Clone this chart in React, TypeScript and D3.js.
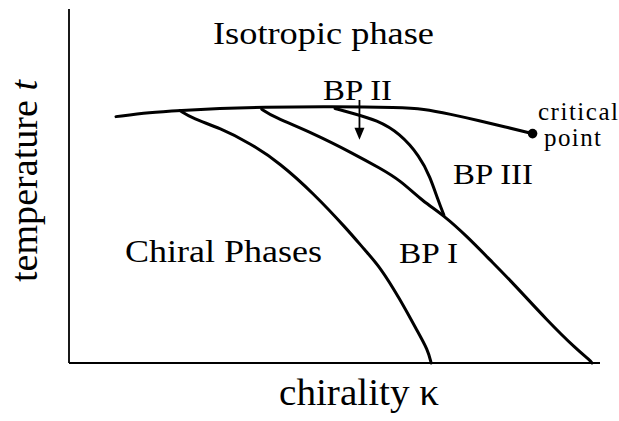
import React from "react";
import * as d3 from "d3";

// Phase diagram of a chiral liquid crystal: temperature t against chirality κ.
// Coordinates are in normalised units (0..1 on both axes).

// Isotropic boundary, ending at the critical point
const isoKappa = [0.0885, 0.1525, 0.209, 0.284, 0.36, 0.497, 0.623, 0.667, 0.718, 0.774, 0.821, 0.873];
const isoTemp = [0.696, 0.708, 0.713, 0.719, 0.723, 0.725, 0.722, 0.718, 0.703, 0.684, 0.667, 0.648];

// Chiral phases / BP I boundary
const chiralKappa = [0.209, 0.2335, 0.284, 0.341, 0.397, 0.46, 0.525, 0.557, 0.586, 0.623, 0.655, 0.676, 0.682];
const chiralTemp = [0.713, 0.69, 0.664, 0.621, 0.565, 0.48, 0.376, 0.319, 0.271, 0.181, 0.093, 0.037, 0.0];

// BP I / BP II boundary, continuing as BP I / BP III
const bp1Kappa = [0.363, 0.384, 0.46, 0.535, 0.586, 0.623, 0.667, 0.705, 0.75, 0.793, 0.836, 0.9, 0.957, 0.981, 0.985];
const bp1Temp = [0.717, 0.696, 0.649, 0.592, 0.55, 0.517, 0.456, 0.418, 0.357, 0.291, 0.226, 0.121, 0.037, 0.008, 0.0];

// BP II / BP III boundary
const bp2Kappa = [0.501, 0.535, 0.58, 0.623, 0.661, 0.68, 0.695, 0.706];
const bp2Temp = [0.719, 0.705, 0.686, 0.649, 0.583, 0.526, 0.46, 0.418];

// Arrow pointing into the narrow BP II pocket
const arrowKappa = [0.547, 0.547];
const arrowTemp = [0.743, 0.631];

const W = 619;
const H = 421;
const FONT = "'Liberation Serif', 'Times New Roman', Times, serif";

export default function App() {
  const x = d3.scaleLinear().domain([0, 1]).range([69, 600]);
  const y = d3.scaleLinear().domain([0, 1]).range([363, 9]);

  const line = d3
    .line<[number, number]>()
    .x((d) => x(d[0]))
    .y((d) => y(d[1]))
    .curve(d3.curveBasis);

  const zip = (a: number[], b: number[]) => a.map((v, i) => [v, b[i]] as [number, number]);
  const curves = [
    zip(isoKappa, isoTemp),
    zip(chiralKappa, chiralTemp),
    zip(bp1Kappa, bp1Temp),
    zip(bp2Kappa, bp2Temp),
  ];

  const cpK = isoKappa[isoKappa.length - 1];
  const cpT = isoTemp[isoTemp.length - 1];

  const ax = x(arrowKappa[0]);
  const ay0 = y(arrowTemp[0]);
  const ay1 = y(arrowTemp[1]);

  return (
    <svg
      width={W}
      height={H}
      viewBox={`0 0 ${W} ${H}`}
      style={{ position: "absolute", left: 0, top: 0, background: "#fff" }}
    >
      <rect x={0} y={0} width={W} height={H} fill="#fff" />
      {/* axes */}
      <line x1={x(0)} y1={y(0)} x2={x(0)} y2={y(1)} stroke="#000" strokeWidth={1.8} />
      <line x1={x(0)} y1={y(0)} x2={x(1)} y2={y(0)} stroke="#000" strokeWidth={1.8} />

      {/* phase boundaries */}
      {curves.map((c, i) => (
        <path
          key={i}
          d={line(c) ?? ""}
          fill="none"
          stroke="#000"
          strokeWidth={3}
          strokeLinecap="round"
          strokeLinejoin="round"
        />
      ))}

      {/* critical point */}
      <circle cx={x(cpK)} cy={y(cpT)} r={4.8} fill="#000" />

      {/* arrow */}
      <line x1={ax} y1={ay0} x2={ax} y2={ay1 - 8} stroke="#000" strokeWidth={1.8} />
      <path d={`M${ax - 5},${ay1 - 12} L${ax + 5},${ay1 - 12} L${ax},${ay1} Z`} fill="#000" />

      <g style={{ fontFamily: FONT }} fill="#000">
        <text x={213} y={43.5} fontSize={32} textLength={221} lengthAdjust="spacingAndGlyphs">
          Isotropic phase
        </text>
        <text x={323} y={100} fontSize={30} textLength={69} lengthAdjust="spacingAndGlyphs">
          BP II
        </text>
        <text x={538} y={120} fontSize={25} textLength={80} lengthAdjust="spacing">
          critical
        </text>
        <text x={544} y={146} fontSize={25} textLength={57} lengthAdjust="spacing">
          point
        </text>
        <text x={453} y={183.5} fontSize={30} textLength={80} lengthAdjust="spacingAndGlyphs">
          BP III
        </text>
        <text x={399} y={263} fontSize={30} textLength={59} lengthAdjust="spacingAndGlyphs">
          BP I
        </text>
        <text x={125} y={261.5} fontSize={32} textLength={197} lengthAdjust="spacingAndGlyphs">
          Chiral Phases
        </text>
        <text x={279} y={404.5} fontSize={37} textLength={160} lengthAdjust="spacingAndGlyphs">
          chirality κ
        </text>
        <text
          transform="translate(37,282) rotate(-90)"
          x={0}
          y={0}
          fontSize={38}
          textLength={202}
          lengthAdjust="spacingAndGlyphs"
        >
          temperature <tspan fontStyle="italic">t</tspan>
        </text>
      </g>
    </svg>
  );
}
